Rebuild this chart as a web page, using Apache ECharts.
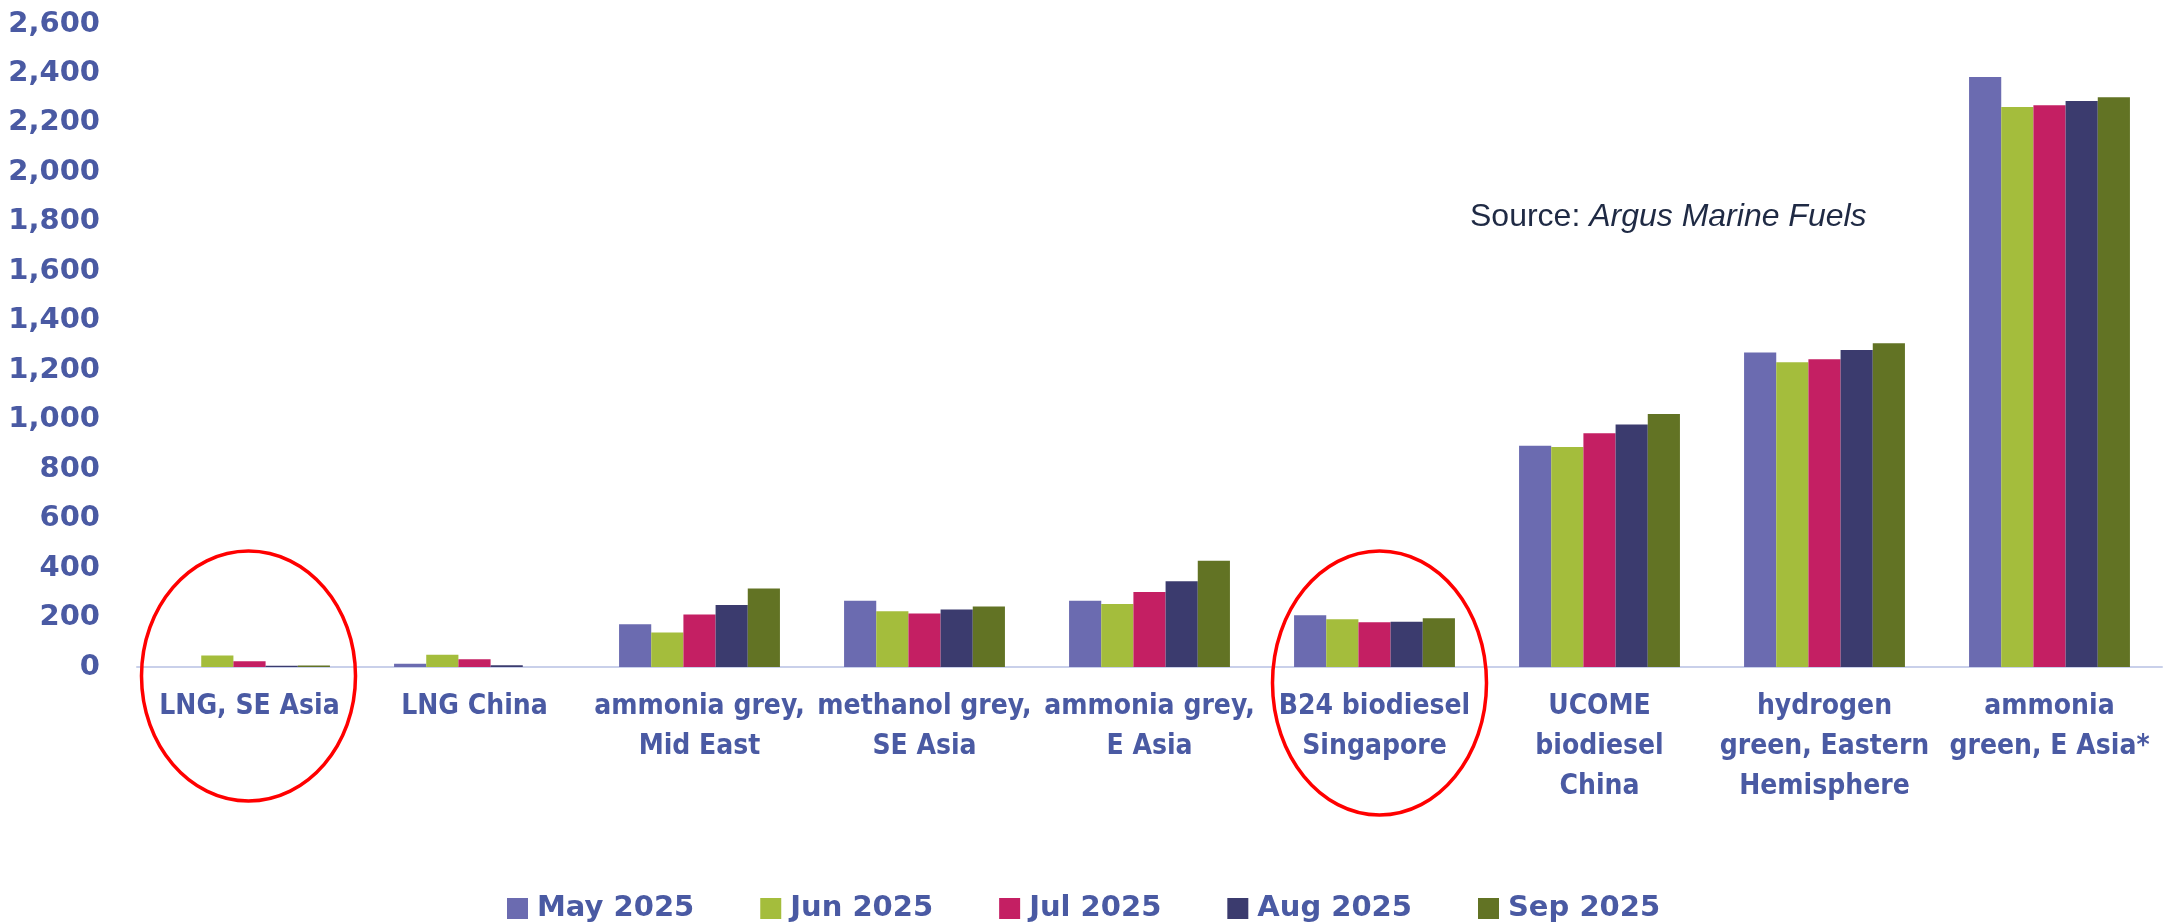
<!DOCTYPE html>
<html>
<head>
<meta charset="utf-8">
<script src="https://cdn.jsdelivr.net/npm/echarts@6/dist/echarts.min.js"></script>
<style>
html,body{margin:0;padding:0;background:#fff;}
#chart{width:2184px;height:923px;}
</style>
</head>
<body>
<div id="chart"></div>
<script>
const categories = [
  "LNG, SE Asia",
  "LNG China",
  "ammonia grey,\nMid East",
  "methanol grey,\nSE Asia",
  "ammonia grey,\nE Asia",
  "B24 biodiesel\nSingapore",
  "UCOME\nbiodiesel\nChina",
  "hydrogen\ngreen, Eastern\nHemisphere",
  "ammonia\ngreen, E Asia*"
];
const seriesNames = ["May 2025", "Jun 2025", "Jul 2025", "Aug 2025", "Sep 2025"];
const may2025 = [0, 13, 173, 268, 268, 209, 895, 1272, 2386];
const jun2025 = [47, 50, 139, 225, 255, 193, 890, 1232, 2264];
const jul2025 = [23, 31, 212, 216, 303, 181, 945, 1244, 2271];
const aug2025 = [5, 7, 251, 232, 347, 183, 981, 1282, 2289];
const sep2025 = [6, 0, 317, 245, 430, 197, 1023, 1309, 2304];
const yTicks = { min: 0, max: 2600, interval: 200 };
const highlighted = ["LNG, SE Asia", "B24 biodiesel\nSingapore"];
const sourceLabel = "Source: ";
const sourceName = "Argus Marine Fuels";

const colors = ["#6b6bb0", "#a4bd3c", "#c41f63", "#3b3b6e", "#627324"];
const textBlue = "#4a5aa3";
const allValues = [may2025, jun2025, jul2025, aug2025, sep2025];

const chart = echarts.init(document.getElementById('chart'));
const option = {
  animation: false,
  backgroundColor: '#ffffff',
  color: colors,
  grid: { left: 137, right: 22, top: 24, bottom: 256, containLabel: false },
  legend: {
    left: 502,
    top: 889,
    itemWidth: 21,
    itemHeight: 21,
    itemGap: 66,
    icon: 'rect',
    textStyle: { color: textBlue, fontFamily: 'DejaVu Sans', fontWeight: 'bold', fontSize: 29, padding: [0, 0, 0, 4] },
    data: seriesNames
  },
  xAxis: {
    type: 'category',
    data: categories,
    axisLine: { show: true, lineStyle: { color: '#c9d0ea', width: 2 } },
    axisTick: { show: false },
    axisLabel: {
      interval: 0,
      margin: 20,
      color: textBlue,
      fontFamily: 'DejaVu Sans Condensed, Liberation Sans Narrow, sans-serif',
      fontWeight: 'bold',
      fontSize: 28,
      lineHeight: 40,
      verticalAlign: 'top'
    }
  },
  yAxis: {
    type: 'value',
    min: yTicks.min,
    max: yTicks.max,
    interval: yTicks.interval,
    axisLine: { show: false },
    axisTick: { show: false },
    splitLine: { show: false },
    axisLabel: {
      margin: 37,
      color: textBlue,
      fontFamily: 'DejaVu Sans',
      fontWeight: 'bold',
      fontSize: 29,
      formatter: v => v.toLocaleString('en-US')
    }
  },
  series: seriesNames.map((n, i) => ({
    name: n,
    type: 'bar',
    data: allValues[i],
    barGap: '0%',
    barCategoryGap: '28.5%',
    itemStyle: { color: colors[i] }
  }))
};
chart.setOption(option);

const p0 = chart.convertToPixel({ xAxisIndex: 0 }, highlighted[0]);
const p1 = chart.convertToPixel({ xAxisIndex: 0 }, highlighted[1]);
const yAxisZero = chart.convertToPixel({ yAxisIndex: 0 }, 0);
chart.setOption({
  graphic: [
    {
      type: 'ellipse',
      shape: { cx: p0 - 1, cy: yAxisZero + 9, rx: 107, ry: 125 },
      style: { fill: 'none', stroke: '#ff0000', lineWidth: 3.5 },
      z: 100
    },
    {
      type: 'ellipse',
      shape: { cx: p1 + 5, cy: yAxisZero + 16, rx: 107, ry: 132 },
      style: { fill: 'none', stroke: '#ff0000', lineWidth: 3.5 },
      z: 100
    },
    {
      type: 'text',
      left: 1470,
      top: 201,
      style: {
        text: '{a|' + sourceLabel + '}{b|' + sourceName + '}',
        rich: {
          a: { fontFamily: 'Liberation Sans', fontSize: 32, fill: '#1f2a44', fontStyle: 'normal' },
          b: { fontFamily: 'Liberation Sans', fontSize: 32, fill: '#1f2a44', fontStyle: 'italic' }
        }
      }
    }
  ]
});
</script>
</body>
</html>
